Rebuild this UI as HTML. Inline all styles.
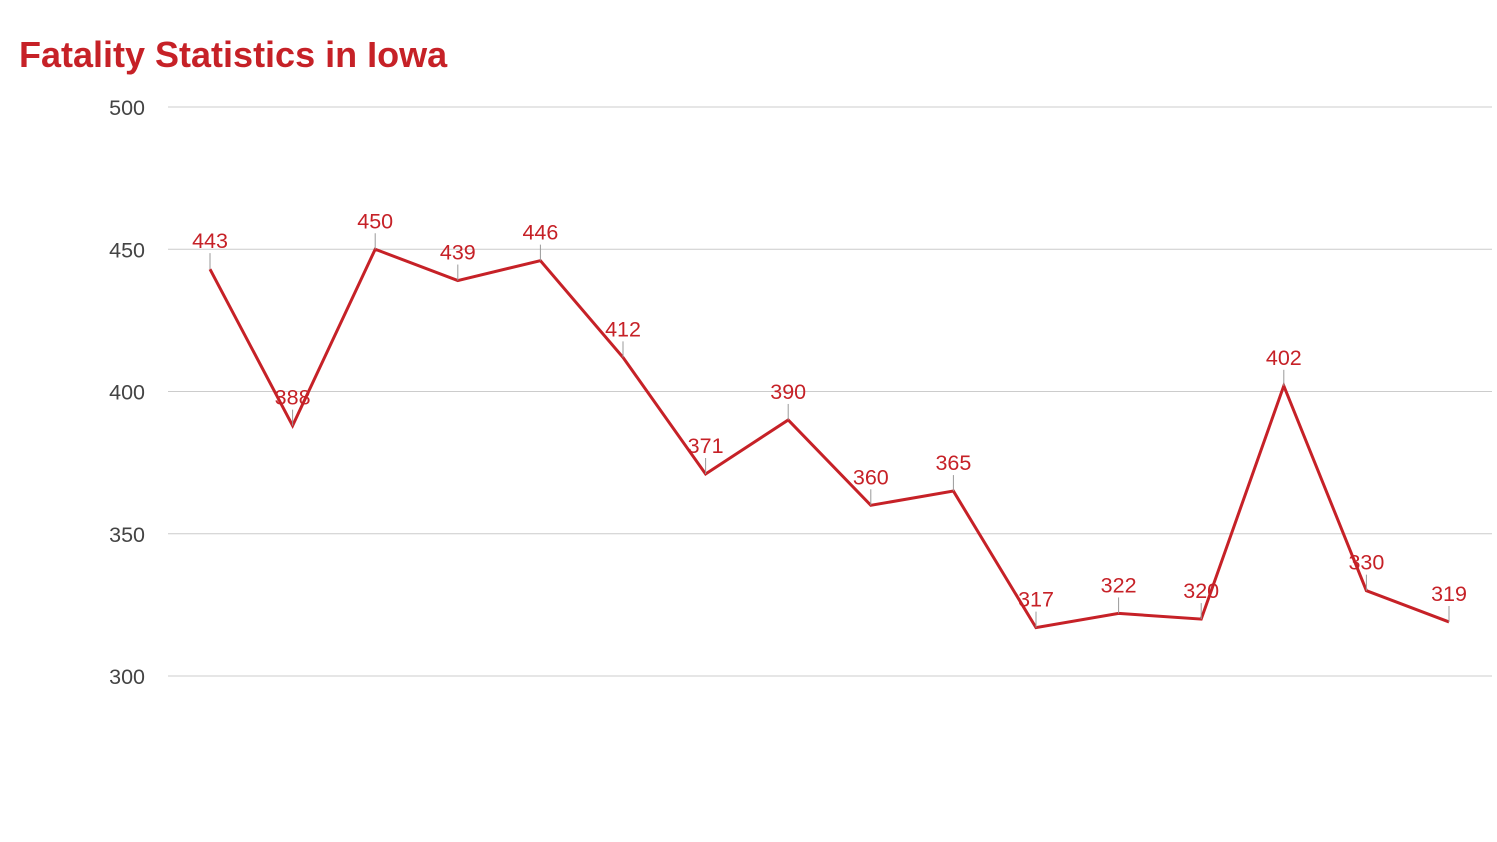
<!DOCTYPE html>
<html><head><meta charset="utf-8"><style>
body{margin:0;background:#fff;}
svg{display:block;font-family:"Liberation Sans",Arial,sans-serif;}
</style></head><body>
<svg id="chart" width="1497" height="842" viewBox="0 0 1497 842">
<text x="19" y="67" font-size="36" font-weight="bold" fill="#c62127">Fatality Statistics in Iowa</text>
<g id="grid"></g><g id="series"></g><g id="labels"></g>
</svg>
<script>
const years=[2004,2005,2006,2007,2008,2009,2010,2011,2012,2013,2014,2015,2016,2017,2018,2019];
const fatalities=[443,388,450,439,446,412,371,390,360,365,317,322,320,402,330,319];
const yTicks=[300,350,400,450,500];
const NS='http://www.w3.org/2000/svg';
const svg=document.getElementById('chart');
const y=v=>676-(v-300)*(569/200);
const x=i=>210+i*(1449-210)/(fatalities.length-1);
function mk(t,a,p){const e=document.createElementNS(NS,t);for(const k in a)e.setAttribute(k,a[k]);p.appendChild(e);return e;}
const grid=document.getElementById('grid');
yTicks.forEach(v=>{
  const l=mk('line',{x1:168,x2:1492,y1:y(v),y2:y(v),stroke:'#ccc','stroke-width':1},grid);
  
  
  const t=mk('text',{x:145,y:y(v)+8,'text-anchor':'end','font-size':21.5,fill:'#444'},grid);
  t.textContent=v;
  
  
});
const series=document.getElementById('series');
const pl=mk('polyline',{points:fatalities.map((v,i)=>x(i)+','+y(v)).join(' '),fill:'none',stroke:'#c62127','stroke-width':3,'stroke-linejoin':'miter'},series);


const lab=document.getElementById('labels');
fatalities.forEach((v,i)=>{
  const tk=mk('line',{x1:x(i),x2:x(i),y1:y(v)-16,y2:y(v),stroke:'#999','stroke-width':1},lab);
  
  
  const t=mk('text',{x:x(i),y:y(v)-21,'text-anchor':'middle','font-size':21.5,fill:'#c62127'},lab);
  t.textContent=v;
  
  
});
</script>
</body></html>
